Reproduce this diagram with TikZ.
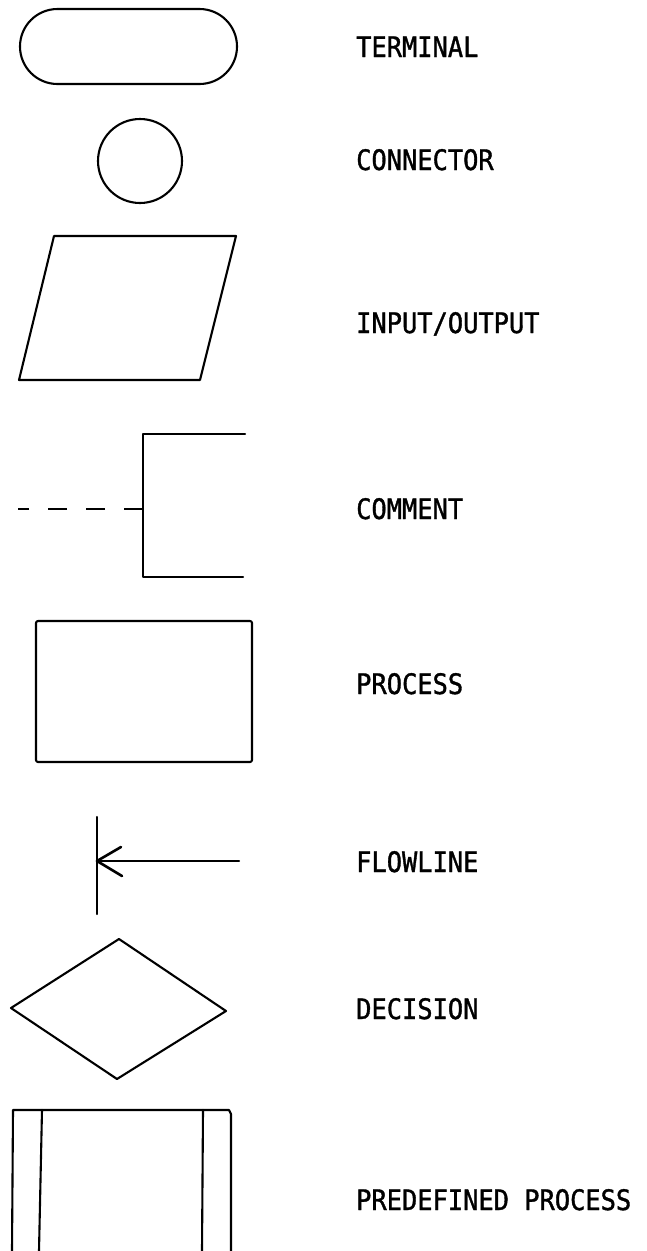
\documentclass[tikz,border=0pt]{standalone}
\usepackage{fontspec}
\newfontfamily\lblfont[FakeStretch=0.9,FakeBold=1.2]{DejaVu Sans Mono}
\begin{document}
\begin{tikzpicture}[x=1pt,y=-1pt,
  sym/.style={line width=2.1pt, line join=round, line cap=round},
  lbl/.style={anchor=base west, inner sep=0pt, font=\lblfont\fontsize{28.2}{30}\selectfont}]
\useasboundingbox[fill=white] (0,0) rectangle (646,1251);
% terminal
\draw[sym, rounded corners=37.5pt] (20,9) rectangle (237,84);
\node[lbl] (tTerminal) at (356,57) {TERMINAL};
% connector
\draw[sym] (140,161) circle[radius=42];
\node[lbl] (tConnector) at (356,170) {CONNECTOR};
% input/output
\draw[sym] (54,236) -- (236,236) -- (200,380) -- (19,380) -- cycle;
\node[lbl] (tIO) at (356,333) {INPUT/OUTPUT};
% comment
\coordinate (cmA) at (143,509);
\coordinate (cmB) at (18,509);
\draw[sym, line cap=butt, dash pattern=on 19pt off 19pt] (cmA) -- (cmB);
\draw[sym] (245,434) -- (143,434) -- (143,577) -- (243,577);
\node[lbl] (tComment) at (356,519) {COMMENT};
% process
\draw[sym, rounded corners=2pt] (36,621) rectangle (252,762);
\node[lbl] (tProcess) at (356,694) {PROCESS};
% flowline
\coordinate (flA) at (97,861);
\coordinate (flB) at (239,861);
\draw[sym] (97,817) -- (97,914);
\draw[sym] (flB) -- (flA);
\draw[sym, line width=2.6pt] (121,847) -- (flA) -- (122,876);
\node[lbl] (tFlow) at (356,872) {FLOWLINE};
% decision
\draw[sym] (119,939) -- (226,1011) -- (117,1079) -- (11,1008) -- cycle;
\node[lbl] (tDecision) at (356,1019) {DECISION};
% predefined process
\draw[sym] (12,1251) -- (13,1110) -- (229,1110) -- (231,1114) -- (231,1251);
\draw[sym] (42,1110) -- (39,1251);
\draw[sym] (203,1110) -- (202,1251);
\node[lbl] (tPre) at (356,1210) {PREDEFINED PROCESS};
\end{tikzpicture}
\end{document}
